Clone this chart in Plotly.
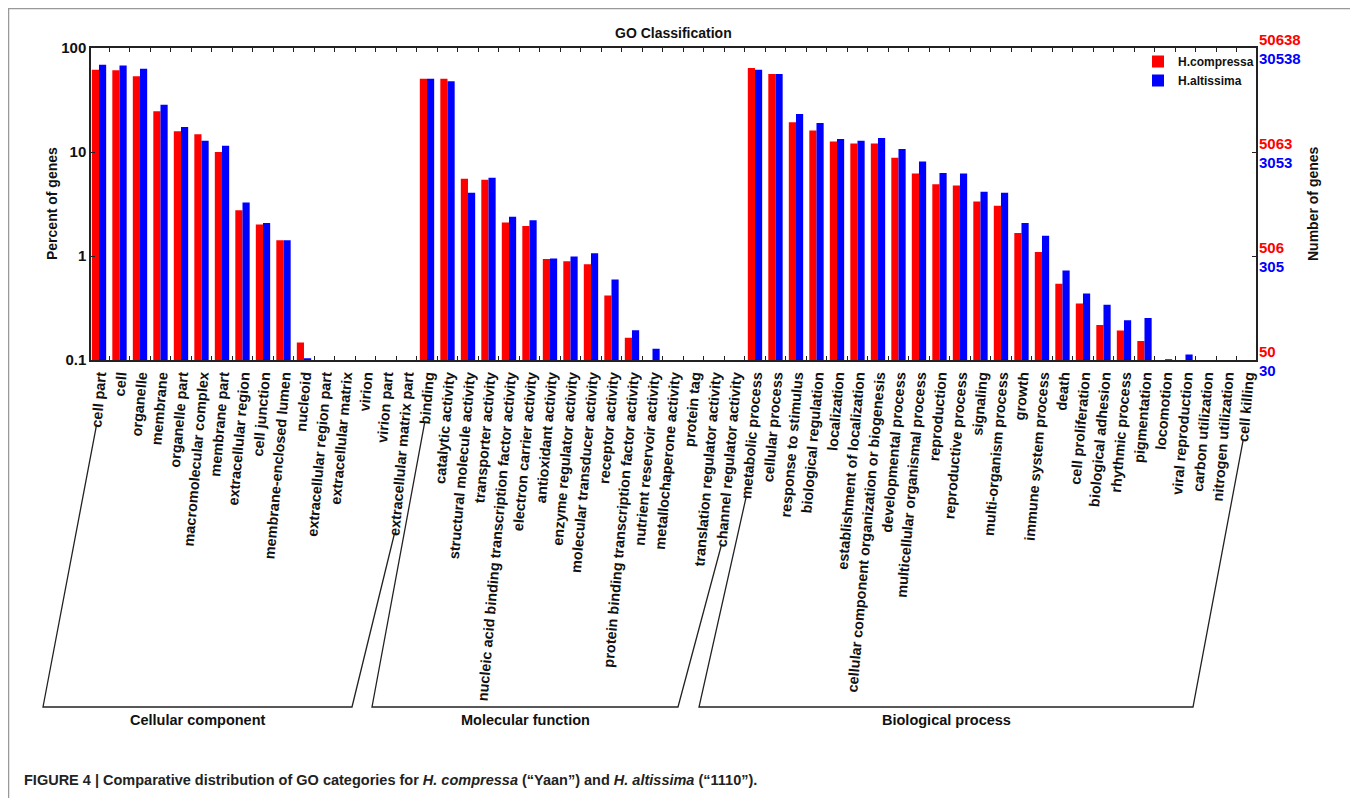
import math
import plotly.graph_objects as go

# ---------------- data ----------------
cc_cats = ["cell part", "cell", "organelle", "membrane", "organelle part",
           "macromolecular complex", "membrane part", "extracellular region",
           "cell junction", "membrane-enclosed lumen", "nucleoid",
           "extracellular region part", "extracellular matrix", "virion",
           "virion part", "extracellular matrix part"]
cc_compressa = [61.8, 61.0, 53.4, 24.6, 15.8, 14.8, 10.0, 2.76, 2.01, 1.42, 0.147,
                None, None, None, None, None]
cc_altissima = [69.0, 68.0, 63.3, 28.5, 17.4, 12.8, 11.5, 3.27, 2.08, 1.42, 0.104,
                None, None, None, None, None]

mf_cats = ["binding", "catalytic activity", "structural molecule activity",
           "transporter activity", "nucleic acid binding transcription factor activity",
           "electron carrier activity", "antioxidant activity",
           "enzyme regulator activity", "molecular transducer activity",
           "receptor activity", "protein binding transcription factor activity",
           "nutrient reservoir activity", "metallochaperone activity", "protein tag",
           "translation regulator activity", "channel regulator activity"]
mf_compressa = [50.7, 50.7, 5.52, 5.40, 2.10, 1.94, 0.938, 0.89, 0.834, 0.416, 0.164,
                None, None, None, None, None]
mf_altissima = [50.7, 47.8, 4.05, 5.65, 2.38, 2.21, 0.945, 0.99, 1.06, 0.593, 0.193,
                0.128, None, None, None, None]

bp_cats = ["metabolic process", "cellular process", "response to stimulus",
           "biological regulation", "localization", "establishment of localization",
           "cellular component organization or biogenesis", "developmental process",
           "multicellular organismal process", "reproduction", "reproductive process",
           "signaling", "multi-organism process", "growth", "immune system process",
           "death", "cell proliferation", "biological adhesion", "rhythmic process",
           "pigmentation", "locomotion", "viral reproduction", "carbon utilization",
           "nitrogen utilization", "cell killing"]
bp_compressa = [64.2, 56.2, 19.3, 16.1, 12.6, 12.1, 12.1, 8.8, 6.22, 4.91, 4.77, 3.34,
                3.04, 1.66, 1.09, 0.54, 0.349, 0.217, 0.192, 0.152,
                None, None, None, None, None]
bp_altissima = [61.8, 56.2, 23.2, 19.0, 13.3, 12.8, 13.6, 10.7, 8.11, 6.27, 6.2, 4.14,
                4.05, 2.08, 1.57, 0.725, 0.435, 0.339, 0.241, 0.254,
                0.1015, 0.113, None, None, None]

total_compressa = 50638
total_altissima = 30538

y_ticks = [0.1, 1, 10, 100]
y_ticktext = ["0.1", "1", "10", "100"]

groups = ["Cellular component", "Molecular function", "Biological process"]

# ---------------- layout constants (page pixels) ----------------
OFF = 8                               # page body margin
W, H = 1350, 790
PL, PR, PT, PB = 91, 1256, 48, 360    # plot area in page pixels
X_PAD_L, X_PAD_R = 0.39, 0.44         # category-axis padding
RED, BLUE = "#ff0000", "#0000ff"
FONT = "Liberation Sans, Arial, Helvetica, sans-serif"
INK = "#111"
LABEL_SIZE = 14.5
LABEL_ANGLE = 85


def px_x(x):
    return (x - PL) / (PR - PL)


def px_y(y):
    return (PB - y) / (PB - PT)


cats = cc_cats + mf_cats + bp_cats
comp = cc_compressa + mf_compressa + bp_compressa
alt = cc_altissima + mf_altissima + bp_altissima
n = len(cats)
step = (PR - PL) / (n - 1 + X_PAD_L + X_PAD_R)

fig = go.Figure()
fig.add_trace(go.Bar(x=cats, y=comp, name="H.compressa", marker_color=RED,
                     marker_line_width=0))
fig.add_trace(go.Bar(x=cats, y=alt, name="H.altissima", marker_color=BLUE,
                     marker_line_width=0))


def bold(size, color=INK):
    return dict(family=FONT, size=size, color=color, weight="bold")


# approximate bold sans glyph advance widths (per 1000 em) for label geometry
GW = {" ": 278, "-": 333}
GW.update(dict(zip("abcdefghijklmnopqrstuvwxyz",
                   [556, 611, 556, 611, 556, 333, 611, 611, 278, 278, 556, 278, 889,
                    611, 611, 611, 611, 389, 556, 333, 611, 556, 778, 556, 556, 500])))


def label_start(i):
    """Page-pixel position of the lower (starting) end of slanted tick label i."""
    L = sum(GW.get(c, 556) for c in cats[i]) * LABEL_SIZE / 1000.0
    xe = PL + (i + X_PAD_L) * step + 3
    ye = PB + 5
    a = math.radians(LABEL_ANGLE)
    return xe - L * math.cos(a), ye + L * math.sin(a)


annotations = []
# right-hand "Number of genes" tick labels (derived from the totals)
for v in y_ticks:
    annotations.append(dict(xref="paper", yref="y", x=1, y=math.log10(v),
                            xanchor="left", yanchor="middle", xshift=1, yshift=9,
                            text=str(int(v * total_compressa / 100)), showarrow=False,
                            font=bold(15, RED)))
    annotations.append(dict(xref="paper", yref="y", x=1, y=math.log10(v),
                            xanchor="left", yanchor="middle", xshift=1, yshift=-10,
                            text=str(int(v * total_altissima / 100)), showarrow=False,
                            font=bold(15, BLUE)))

annotations += [
    dict(xref="paper", yref="paper", x=0.5, y=px_y(33), xanchor="center",
         yanchor="middle", text="GO Classification", showarrow=False, font=bold(14)),
    dict(xref="paper", yref="paper", x=px_x(52), y=px_y(204), xanchor="center",
         yanchor="middle", text="Percent of genes", textangle=-90, showarrow=False,
         font=bold(14)),
    dict(xref="paper", yref="paper", x=px_x(1313), y=px_y(204), xanchor="center",
         yanchor="middle", text="Number of genes", textangle=-90, showarrow=False,
         font=bold(14)),
    dict(xref="paper", yref="paper", x=px_x(22), y=px_y(780), xanchor="left",
         yanchor="middle",
         text="FIGURE 4 | Comparative distribution of GO categories for <i>H. compressa</i> "
              "(\u201cYaan\u201d) and <i>H. altissima</i> (\u201c1110\u201d).",
         showarrow=False, font=bold(14.5, "#222")),
]

# group brackets: from first/last label of each group down to a common base line
group_bounds = [(0, len(cc_cats) - 1),
                (len(cc_cats), len(cc_cats) + len(mf_cats) - 1),
                (len(cc_cats) + len(mf_cats), n - 1)]
bracket_base = [(43, 352), (372, 678), (699, 1193)]
BASE_Y = 707
shapes = []
for g, (i0, i1), (bx0, bx1) in zip(groups, group_bounds, bracket_base):
    sx0, sy0 = label_start(i0)
    sx1, sy1 = label_start(i1)
    pts = [(sx0 - 0.5, sy0 + 4), (bx0, BASE_Y), (bx1, BASE_Y), (sx1 - 0.5, sy1 + 4)]
    path = "M " + " L ".join(f"{px_x(x):.5f},{px_y(y):.5f}" for x, y in pts)
    shapes.append(dict(type="path", xref="paper", yref="paper", path=path,
                       line=dict(color="#222", width=1.3)))
    annotations.append(dict(xref="paper", yref="paper", x=px_x((bx0 + bx1) / 2),
                            y=px_y(720), xanchor="center", yanchor="middle", text=g,
                            showarrow=False, font=bold(14.5)))
# outer figure border
shapes.append(dict(type="rect", xref="paper", yref="paper",
                   x0=px_x(8.5), x1=px_x(1351), y0=px_y(830), y1=px_y(8.5),
                   line=dict(color="#999", width=1.5), fillcolor="rgba(0,0,0,0)",
                   layer="below"))

fig.update_layout(
    width=W, height=H,
    margin=dict(l=PL - OFF, r=W + OFF - PR, t=PT - OFF, b=H + OFF - PB,
                autoexpand=False),
    paper_bgcolor="white", plot_bgcolor="white",
    barmode="group", bargap=0.3, bargroupgap=0,
    showlegend=True,
    legend=dict(x=px_x(1259), xanchor="right", y=px_y(47), yanchor="top",
                bgcolor="rgba(0,0,0,0)", borderwidth=0, itemwidth=30,
                tracegroupgap=0, font=bold(12)),
    annotations=annotations,
    shapes=shapes,
    font=dict(family=FONT),
)

fig.update_xaxes(
    type="category", categoryorder="array", categoryarray=cats,
    range=[-X_PAD_L, n - 1 + X_PAD_R],
    tickson="boundaries", ticks="inside", ticklen=4, tickcolor="#222",
    tickangle=-LABEL_ANGLE, showline=True, linecolor="#222", linewidth=1.5,
    mirror="ticks", showgrid=False, zeroline=False,
    tickfont=bold(LABEL_SIZE),
)
fig.update_yaxes(
    type="log", range=[-1, 2],
    tickvals=y_ticks, ticktext=y_ticktext,
    ticks="inside", ticklen=4, tickcolor="#222",
    showline=True, linecolor="#222", linewidth=1.5, mirror="ticks",
    showgrid=False, zeroline=False,
    tickfont=bold(15),
)

fig.write_html("out.html")
